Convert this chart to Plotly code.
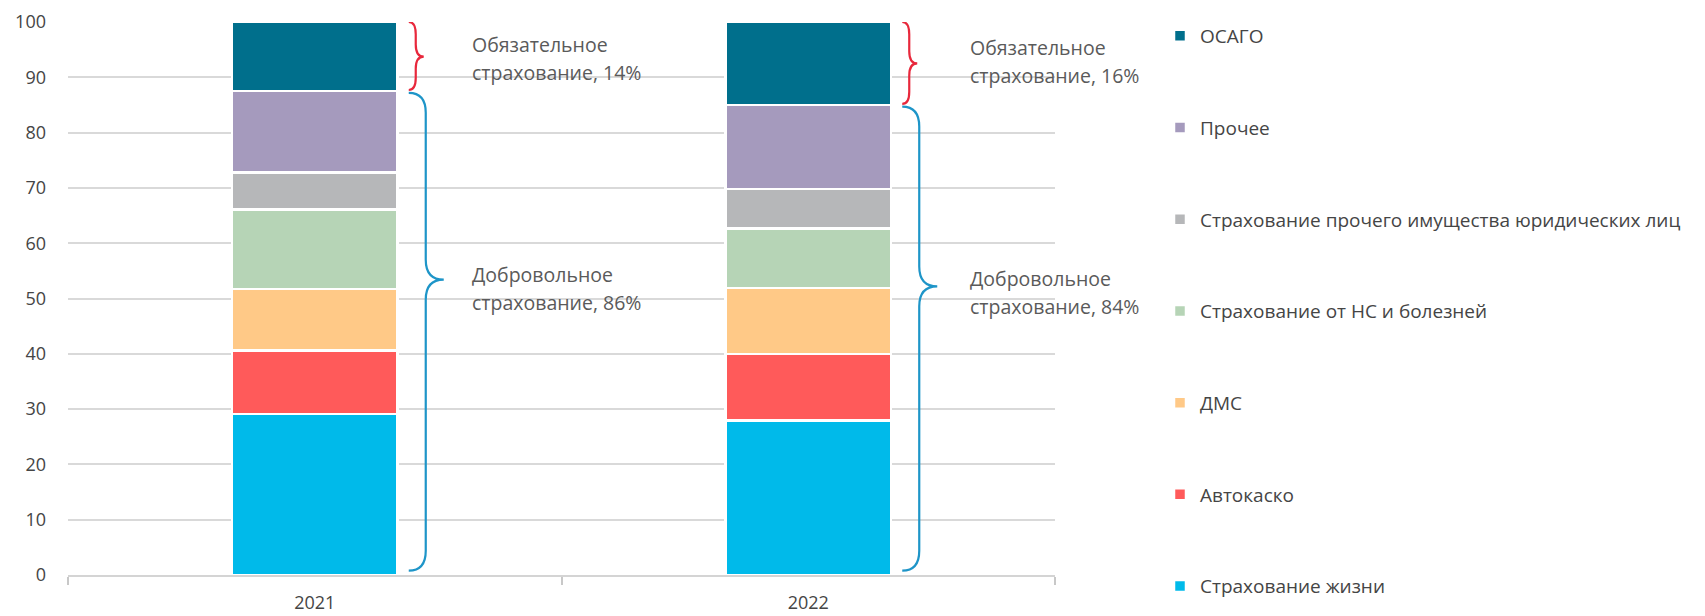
import plotly.graph_objects as go

# ---------------- data ----------------
years = ["2021", "2022"]
categories = [
    "Страхование жизни",
    "Автокаско",
    "ДМС",
    "Страхование от НС и болезней",
    "Страхование прочего имущества юридических лиц",
    "Прочее",
    "ОСАГО",
]
values_2021 = [29.1, 11.5, 11.1, 14.4, 6.7, 14.7, 12.5]
values_2022 = [27.9, 12.1, 11.9, 10.8, 7.1, 15.2, 15.0]
mandatory_labels = ["Обязательное<br>страхование, 14%", "Обязательное<br>страхование, 16%"]
voluntary_labels = ["Добровольное<br>страхование, 86%", "Добровольное<br>страхование, 84%"]

# ---------------- style ----------------
colors = ["#00BAEA", "#FF5A5A", "#FFC987", "#B6D4B6", "#B6B7B9", "#A59ABD", "#006F8C"]
FONT = "Open Sans"
TXT = "#454545"
ANN = "#5a5a5a"
W, H = 1705, 616
M_L, M_T = 68, 22
PW, PH = 987, 553
M_R = W - M_L - PW
M_B = H - M_T - PH
px2x = 1.0 / PW          # px -> paper
px2y = 100.0 / PH        # px -> data y

fig = go.Figure()
n = len(categories)
for i, cat in enumerate(categories):
    fig.add_trace(go.Bar(
        x=years, y=[values_2021[i], values_2022[i]], name=cat,
        marker=dict(color=colors[i], line=dict(color="white", width=2.5)),
        width=0.335, legendgroup=cat, legendrank=n - i,
    ))

# ---------------- braces ----------------
def brace(xc, y_bot, y_top, y_tip, dx_start, dx_vert, dx_tip, r, color):
    xs = xc + dx_start * px2x
    xv = xc + dx_vert * px2x
    xt = xc + dx_tip * px2x
    p = (f"M {xs:.5f},{y_top:.3f} Q {xv:.5f},{y_top:.3f} {xv:.5f},{y_top - r:.3f} "
         f"L {xv:.5f},{y_tip + r:.3f} Q {xv:.5f},{y_tip:.3f} {xt:.5f},{y_tip:.3f} "
         f"Q {xv:.5f},{y_tip:.3f} {xv:.5f},{y_tip - r:.3f} "
         f"L {xv:.5f},{y_bot + r:.3f} Q {xv:.5f},{y_bot:.3f} {xs:.5f},{y_bot:.3f}")
    return dict(type="path", path=p, xref="paper", yref="y",
                line=dict(color=color, width=2.2), layer="above")

centers = [0.25, 0.75]
blue_tip = [53.4, 52.2]
mand_text_y = [93.4, 92.8]
vol_text_y = [51.8, 51.0]
text_dx = [155, 160]
line_gap = 28 * px2y
shapes = []
annotations = []


def add_text_block(x, yc, text):
    lines = text.split("<br>")
    k0 = (len(lines) - 1) / 2
    for j, ln in enumerate(lines):
        annotations.append(dict(x=x, y=yc - (j - k0) * line_gap, xref="paper", yref="y",
                                text=ln, showarrow=False, xanchor="left", yanchor="middle",
                                align="left", font=dict(family=FONT, size=19.5, color=ANN)))


for k, vals in enumerate([values_2021, values_2022]):
    voluntary = sum(vals[:-1])
    xc = centers[k]
    shapes.append(brace(xc, voluntary + 0.2, 100.0, (voluntary + 100) / 2,
                        94, 101, 109, 2.2, "#E8283C"))
    shapes.append(brace(xc, 0.8, voluntary - 0.3, blue_tip[k],
                        94, 111, 129, 3.6, "#1E95C8"))
    add_text_block(xc + text_dx[k] * px2x, mand_text_y[k], mandatory_labels[k])
    add_text_block(xc + text_dx[k] * px2x, vol_text_y[k], voluntary_labels[k])

fig.update_layout(
    width=W, height=H,
    margin=dict(l=M_L, r=M_R, t=M_T, b=M_B, autoexpand=False),
    barmode="stack",
    plot_bgcolor="white", paper_bgcolor="white",
    font=dict(family=FONT, size=18, color=TXT),
    shapes=shapes, annotations=annotations,
    showlegend=True,
    legend=dict(x=(1152 - 60) / PW, xanchor="left", y=1.009, yanchor="top",
                traceorder="grouped", tracegroupgap=64, maxheight=700,
                font=dict(family=FONT, size=19, color=TXT),
                bgcolor="rgba(0,0,0,0)"),
    xaxis=dict(type="category", showgrid=False, showline=True, linecolor="#d4d4d4",
               linewidth=2, ticks="outside", tickson="boundaries", ticklen=8,
               tickcolor="#c8c8c8", tickwidth=1.5, ticklabelstandoff=10,
               tickfont=dict(size=18, color=TXT)),
    yaxis=dict(range=[0, 100], dtick=10, showgrid=True, gridcolor="#d9d9d9", gridwidth=1.6,
               zeroline=False, showline=False, ticks="", ticklabelstandoff=21,
               tickfont=dict(size=18, color=TXT)),
)

fig.write_html("out.html", config={"displayModeBar": False},
               post_script="document.body.style.margin='0';")
